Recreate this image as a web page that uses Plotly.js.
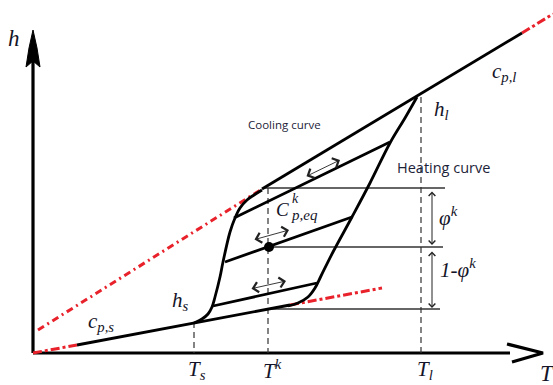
<!DOCTYPE html>
<html>
<head>
<meta charset="utf-8">
<script src="https://cdn.plot.ly/plotly-3.0.1.min.js"></script>
<style>html,body{margin:0;padding:0;background:#fff;}#chart{width:553px;height:385px;}</style>
</head>
<body>
<div id="chart"></div>
<script>
// Schematic coordinates (T to the right, h measured downward in drawing space; y axis reversed)
const axisT_T = [33, 510];       const axisT_H = [353, 353];
const axisH_T = [33, 33];        const axisH_H = [353, 55];
const arrowT_T = [507, 543, 512]; const arrowT_H = [344, 353, 362];
const arrowH_T = [33, 37, 40, 33, 26, 29, 33]; const arrowH_H = [30, 48, 67, 61, 67, 48, 30];

const solidT = [77, 290];        const solidH = [345, 305];
const solidExtLT = [33, 77];     const solidExtLH = [353, 345];
const solidExtRT = [290, 382];   const solidExtRH = [305, 288];

const liquidT = [262, 522];      const liquidH = [189, 33];
const liquidExtLT = [38, 262];   const liquidExtLH = [330, 189];
const liquidExtRT = [522, 553];  const liquidExtRH = [33, 14];

const coolingT = [194, 202, 208, 212, 215, 220, 223, 230, 235, 240, 247, 254, 262];
const coolingH = [323, 319, 314, 307, 297, 277, 262, 232, 218, 208, 200, 195, 190];

const heatingT = [288, 298, 308, 315, 321, 333, 352, 370, 390, 405, 417];
const heatingH = [306, 303, 297, 288, 276, 252, 217, 183, 143, 118, 97];

const loopUpperT = [234, 390];   const loopUpperH = [218, 142];
const loopMidT = [225, 352];     const loopMidH = [262, 217];
const loopLowT = [213, 317];     const loopLowH = [306, 283];

const pointT = [269];            const pointH = [247];

const levelsH = [188, 247, 309];
const levelsStart = [263, 269, 268];
const levelsEnd = [445, 443, 440];

const vDashT = [194, 268, 421];
const vDashTop = [322, 188, 97];
const vDashBottom = [353, 353, 353];

const blk = '#000';
const red = '#e8212b';
const traces = [];
function line(x, y, color, width, dash, shape) {
  traces.push({x: x, y: y, type: 'scatter', mode: 'lines', hoverinfo: 'skip',
    line: {color: color, width: width, dash: dash || 'solid', shape: shape || 'linear', smoothing: 1}});
}
// axes
line(axisT_T, axisT_H, blk, 3.2);
line(axisH_T, axisH_H, blk, 3.2);
line(arrowT_T, arrowT_H, blk, 3.2);
traces.push({x: arrowH_T, y: arrowH_H, type: 'scatter', mode: 'lines', fill: 'toself',
  fillcolor: blk, line: {color: blk, width: 1}, hoverinfo: 'skip'});
// red extensions
line(solidExtLT, solidExtLH, red, 3, '9px,3px,3px,3px');
line(solidExtRT, solidExtRH, red, 3, '9px,3px,3px,3px');
line(liquidExtLT, liquidExtLH, red, 3, '7px,4px,2px,4px');
line(liquidExtRT, liquidExtRH, red, 3, '9px,3px,3px,3px');
// thin guides
for (let i = 0; i < levelsH.length; i++) {
  line([levelsStart[i], levelsEnd[i]], [levelsH[i], levelsH[i]], '#333', 1.3);
}
for (let i = 0; i < vDashT.length; i++) {
  line([vDashT[i], vDashT[i]], [vDashTop[i], vDashBottom[i]], '#333', 1.2, '6px,4px');
}
// main black lines
line(solidT, solidH, blk, 2.8);
line(liquidT, liquidH, blk, 2.8);
line(coolingT, coolingH, blk, 2.8, 'solid', 'spline');
line(heatingT, heatingH, blk, 2.8, 'solid', 'spline');
line(loopUpperT, loopUpperH, blk, 2.8);
line(loopMidT, loopMidH, blk, 2.8);
line(loopLowT, loopLowH, blk, 2.8);
traces.push({x: pointT, y: pointH, type: 'scatter', mode: 'markers', hoverinfo: 'skip',
  marker: {color: blk, size: 10}});

const serif = 'Liberation Serif, DejaVu Serif, serif';
const tc = '#141428';
function lab(x, y, text, size, family, color) {
  return {x: x, y: y, xref: 'x', yref: 'y', text: text, showarrow: false,
    font: {family: family || serif, size: size || 21, color: color || tc}};
}
function dbl(x0, y0, x1, y1, w, head, sz) {
  return {x: x1, y: y1, ax: x0, ay: y0, xref: 'x', yref: 'y', axref: 'x', ayref: 'y',
    text: '', showarrow: true, arrowside: 'end+start', arrowhead: head, startarrowhead: head,
    arrowsize: sz, startarrowsize: sz, arrowwidth: w, arrowcolor: '#222'};
}
const annotations = [
  lab(14, 38, '<i>h</i>', 23),
  lab(547, 373, '<i>T</i>', 23),
  lab(197, 370, '<i>T</i><sub><i>s</i></sub>', 21),
  lab(272, 369, '<i>T</i><sup><i>k</i></sup>', 21),
  lab(425, 370, '<i>T</i><sub><i>l</i></sub>', 21),
  lab(101, 322, '<i>c</i><sub><i>p,s</i></sub>', 21),
  lab(180, 301, '<i>h</i><sub><i>s</i></sub>', 21),
  lab(504, 72, '<i>c</i><sub><i>p,l</i></sub>', 21),
  lab(441, 110, '<i>h</i><sub><i>l</i></sub>', 21),
  lab(282, 209, '<i>C</i>', 19),
  lab(304, 215, '<i>p,eq</i>', 15),
  lab(295, 198, '<i>k</i>', 14),
  lab(448, 216, '<i>φ</i><sup><i>k</i></sup>', 21),
  lab(458, 268, '<i>1-φ</i><sup><i>k</i></sup>', 21),
  lab(284, 124, 'Cooling curve', 11.5, 'Open Sans, sans-serif', '#1c2338'),
  lab(443, 167, 'Heating curve', 14.5, 'Open Sans, sans-serif', '#1c2338'),
  dbl(432, 190, 432, 245, 1, 4, 1.3),
  dbl(432, 250, 432, 308, 1, 4, 1.3),
  dbl(305, 177, 340, 160, 0.9, 4, 2.2),
  dbl(253, 240, 289, 230, 0.9, 4, 2.2),
  dbl(250, 289, 286, 281, 0.9, 4, 2.2)
];

const layout = {
  width: 553, height: 385,
  margin: {l: 0, r: 0, t: 0, b: 0},
  paper_bgcolor: '#fff', plot_bgcolor: '#fff',
  showlegend: false,
  xaxis: {range: [0, 553], visible: false, fixedrange: true},
  yaxis: {range: [385, 0], visible: false, fixedrange: true},
  annotations: annotations
};
Plotly.newPlot('chart', traces, layout, {staticPlot: true, displayModeBar: false});
</script>
</body>
</html>
